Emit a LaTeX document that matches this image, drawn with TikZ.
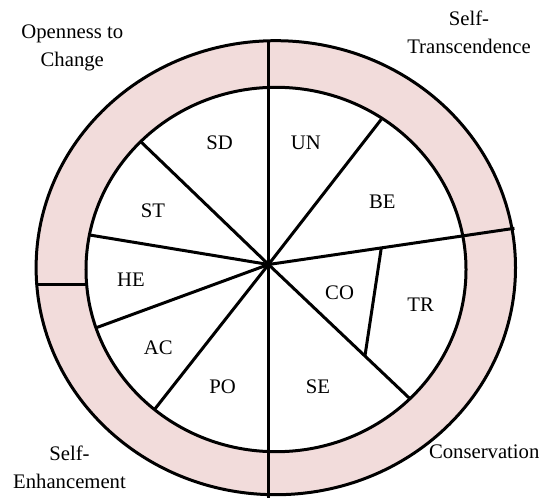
\documentclass[tikz,border=0pt]{standalone}
\usepackage{fontspec}
\setmainfont{Liberation Serif}
\usetikzlibrary{calc}
\definecolor{ringpink}{HTML}{F2DCDB}
\begin{document}
\begin{tikzpicture}[x=1bp,y=-1bp,
  lab/.style={font=\fontsize{20.7bp}{28bp}\selectfont, inner sep=0pt, align=center},
  spoke/.style={draw=black, line width=3bp},
  ring/.style={draw=black, line width=3bp}]
\useasboundingbox (0,0) rectangle (545,498);
% ring fill
\fill[ringpink, even odd rule] (275.8,267.7) ellipse [x radius=239.7bp, y radius=227bp]
  (276,269.5) ellipse [x radius=190bp, y radius=182.2bp];
% coordinates
\coordinate (hub) at (268.5,264.5);
\coordinate (top) at (268.5,40.8);
\coordinate (bot) at (268.5,498);
\coordinate (r1) at (514.4,228.3);
\coordinate (ub) at (381.3,119.3);
\coordinate (ss) at (140.8,141.7);
\coordinate (hs) at (89.7,235);
\coordinate (ha) at (95.5,328);
\coordinate (ap) at (154.5,409.5);
\coordinate (st) at (409.5,398.3);
\coordinate (ct1) at ($(hub)!0.4587!(r1)$);
\coordinate (ct2) at ($(hub)!0.684!(st)$);
\coordinate (lo) at (36.7,284);
\coordinate (li) at (86.6,284);
% ellipses
\draw[ring] (275.8,267.7) ellipse [x radius=239.7bp, y radius=227bp];
\draw[ring] (276,269.5) ellipse [x radius=190bp, y radius=182.2bp];
% spokes
\draw[spoke] (top) -- (bot);
\draw[spoke] (hub) -- (r1);
\draw[spoke] (hub) -- (ub);
\draw[spoke] (hub) -- (ss);
\draw[spoke] (hub) -- (hs);
\draw[spoke] (hub) -- (ha);
\draw[spoke] (hub) -- (ap);
\draw[spoke] (hub) -- (st);
\draw[spoke] (ct1) -- (ct2);
\draw[spoke] (lo) -- (li);
% labels
\node[lab] (sd) at (219.7,142.7) {SD};
\node[lab] (un) at (305.9,142.7) {UN};
\node[lab] (be) at (382.3,201.7) {BE};
\node[lab] (stl) at (152.9,210.7) {ST};
\node[lab] (he) at (131,280) {HE};
\node[lab] (co) at (339.6,292.7) {CO};
\node[lab] (tr) at (420.6,305) {TR};
\node[lab] (ac) at (158.2,347.7) {AC};
\node[lab] (po) at (222.5,386.7) {PO};
\node[lab] (se) at (318,386.7) {SE};
\node[lab] (open) at (72.3,47.5) {Openness to\\Change};
\node[lab] (trans) at (469,32.2) {Self-\\Transcendence};
\node[lab] (cons) at (484.2,451.7) {Conservation};
\node[lab] (enh) at (69.5,467.5) {Self-\\Enhancement};
\end{tikzpicture}
\end{document}
